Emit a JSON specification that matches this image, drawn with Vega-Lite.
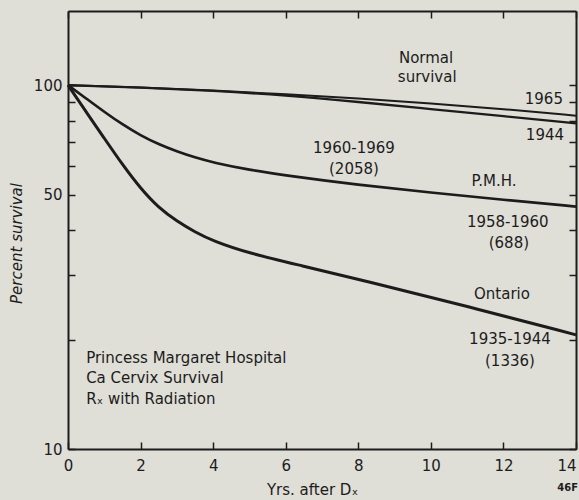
{
  "$schema": "https://vega.github.io/schema/vega-lite/v6.json",
  "width": 508,
  "height": 438,
  "autosize": {"type": "none"},
  "padding": {"left": 68, "top": 11, "right": 3, "bottom": 51},
  "background": "#dfded7",
  "title": {"text": "46F", "orient": "bottom", "anchor": "end", "align": "right", "fontSize": 10, "fontWeight": "bold", "font": "DejaVu Sans", "color": "#1c1c1c", "offset": 0, "dy": -14, "dx": -4},
  "config": {
    "view": {"stroke": null},
    "font": "DejaVu Sans",
    "axis": {
      "domainColor": "#1c1c1c",
      "domainWidth": 2,
      "tickColor": "#1c1c1c",
      "tickWidth": 1.5,
      "tickSize": -7,
      "labelColor": "#1c1c1c",
      "labelFontSize": 15,
      "labelFont": "DejaVu Sans",
      "titleColor": "#1c1c1c",
      "titleFont": "DejaVu Sans",
      "titleFontSize": 15,
      "titleFontWeight": "normal",
      "grid": false
    }
  },
  "datasets": {
    "curves": [
      {"series": "Normal 1965", "yr": 0, "pct": 100},
      {"series": "Normal 1965", "yr": 2, "pct": 98.6},
      {"series": "Normal 1965", "yr": 4, "pct": 96.8},
      {"series": "Normal 1965", "yr": 6, "pct": 94.5},
      {"series": "Normal 1965", "yr": 8, "pct": 92},
      {"series": "Normal 1965", "yr": 10, "pct": 89.2},
      {"series": "Normal 1965", "yr": 12, "pct": 86},
      {"series": "Normal 1965", "yr": 14, "pct": 82.5},
      {"series": "Normal 1944", "yr": 0, "pct": 100},
      {"series": "Normal 1944", "yr": 2, "pct": 98.6},
      {"series": "Normal 1944", "yr": 4, "pct": 96.6},
      {"series": "Normal 1944", "yr": 6, "pct": 93.8},
      {"series": "Normal 1944", "yr": 8, "pct": 90},
      {"series": "Normal 1944", "yr": 10, "pct": 86},
      {"series": "Normal 1944", "yr": 12, "pct": 82.2},
      {"series": "Normal 1944", "yr": 14, "pct": 78.6},
      {"series": "PMH 1960-1969", "yr": 0, "pct": 100},
      {"series": "PMH 1960-1969", "yr": 0.5, "pct": 92},
      {"series": "PMH 1960-1969", "yr": 1, "pct": 84.5},
      {"series": "PMH 1960-1969", "yr": 1.5, "pct": 78},
      {"series": "PMH 1960-1969", "yr": 2, "pct": 72.8},
      {"series": "PMH 1960-1969", "yr": 2.5, "pct": 68.8},
      {"series": "PMH 1960-1969", "yr": 3, "pct": 65.8},
      {"series": "PMH 1960-1969", "yr": 3.5, "pct": 63.3},
      {"series": "PMH 1960-1969", "yr": 4, "pct": 61.3},
      {"series": "PMH 1960-1969", "yr": 5, "pct": 58.5},
      {"series": "PMH 1960-1969", "yr": 6, "pct": 56.5},
      {"series": "PMH 1960-1969", "yr": 8, "pct": 53.2},
      {"series": "PMH 1960-1969", "yr": 10, "pct": 50.7},
      {"series": "PMH 1960-1969", "yr": 12, "pct": 48.4},
      {"series": "PMH 1960-1969", "yr": 14, "pct": 46.4},
      {"series": "Ontario 1935-1944", "yr": 0, "pct": 100},
      {"series": "Ontario 1935-1944", "yr": 0.5, "pct": 84.5},
      {"series": "Ontario 1935-1944", "yr": 1, "pct": 71.5},
      {"series": "Ontario 1935-1944", "yr": 1.5, "pct": 60.5},
      {"series": "Ontario 1935-1944", "yr": 2, "pct": 52},
      {"series": "Ontario 1935-1944", "yr": 2.5, "pct": 46},
      {"series": "Ontario 1935-1944", "yr": 3, "pct": 42.3},
      {"series": "Ontario 1935-1944", "yr": 3.5, "pct": 39.5},
      {"series": "Ontario 1935-1944", "yr": 4, "pct": 37.3},
      {"series": "Ontario 1935-1944", "yr": 5, "pct": 34.5},
      {"series": "Ontario 1935-1944", "yr": 6.39, "pct": 32},
      {"series": "Ontario 1935-1944", "yr": 8.23, "pct": 28.9},
      {"series": "Ontario 1935-1944", "yr": 10.99, "pct": 24.7},
      {"series": "Ontario 1935-1944", "yr": 14, "pct": 20.6}
    ],
    "labels": [
      {"kind": "left", "x": 9.12, "y": 118.7, "label": "Normal"},
      {"kind": "left", "x": 9.09, "y": 105.2, "label": "survival"},
      {"kind": "right", "x": 13.64, "y": 91.5, "label": "1965"},
      {"kind": "right", "x": 13.67, "y": 72.8, "label": "1944"},
      {"kind": "center", "x": 7.88, "y": 67.1, "label": "1960-1969"},
      {"kind": "center", "x": 7.88, "y": 58.7, "label": "(2058)"},
      {"kind": "center", "x": 11.74, "y": 54.7, "label": "P.M.H."},
      {"kind": "center", "x": 12.12, "y": 42.2, "label": "1958-1960"},
      {"kind": "center", "x": 12.15, "y": 36.9, "label": "(688)"},
      {"kind": "center", "x": 11.96, "y": 26.7, "label": "Ontario"},
      {"kind": "center", "x": 12.18, "y": 20.1, "label": "1935-1944"},
      {"kind": "center", "x": 12.18, "y": 17.4, "label": "(1336)"},
      {"kind": "left", "x": 0.5, "y": 17.8, "label": "Princess Margaret Hospital"},
      {"kind": "left", "x": 0.5, "y": 15.7, "label": "Ca Cervix Survival"},
      {"kind": "left", "x": 0.5, "y": 13.7, "label": "Rₓ  with Radiation"}
    ]
  },
  "layer": [
    {
      "data": {"name": "curves"},
      "mark": {"type": "line", "interpolate": "basis", "color": "#1c1c1c"},
      "encoding": {
        "x": {
          "field": "yr", "type": "quantitative",
          "scale": {"domain": [0, 14], "nice": false},
          "axis": {"orient": "bottom", "values": [0, 2, 4, 6, 8, 10, 12, 14], "labelPadding": 16, "title": "Yrs. after Dₓ", "titleX": 244, "titleY": 40, "titleBaseline": "middle", "labelFlush": false, "labelAlign": {"condition": {"test": "datum.value == 14", "value": "right"}, "value": "center"}}
        },
        "y": {
          "field": "pct", "type": "quantitative",
          "scale": {"type": "log", "domain": [10, 160], "nice": false},
          "axis": {"orient": "left", "values": [10, 20, 30, 40, 50, 60, 70, 80, 90, 100], "labelExpr": "datum.value == 10 || datum.value == 50 || datum.value == 100 ? format(datum.value, 'd') : ''", "labelPadding": 13, "title": "Percent survival", "titleFontStyle": "italic", "titleX": -52, "titleY": 232, "titleBaseline": "middle", "titleAngle": -90}
        },
        "detail": {"field": "series"},
        "strokeWidth": {"field": "series", "type": "nominal", "scale": {"domain": ["Normal 1965", "Normal 1944", "PMH 1960-1969", "Ontario 1935-1944"], "range": [2, 3, 2.5, 2.5]}, "legend": null}
      }
    },
    {
      "data": {"name": "labels"},
      "transform": [{"filter": "datum.kind == 'left'"}],
      "mark": {"type": "text", "align": "left", "baseline": "middle", "fontSize": 15, "color": "#1c1c1c"},
      "encoding": {
        "x": {"field": "x", "type": "quantitative", "axis": {"orient": "top", "values": [0, 2, 4, 6, 8, 10, 12, 14], "labels": false, "title": null}},
        "y": {"field": "y", "type": "quantitative", "axis": {"orient": "right", "values": [10, 20, 30, 40, 50, 60, 70, 80, 90, 100], "labels": false, "title": null}},
        "text": {"field": "label"}
      }
    },
    {
      "data": {"name": "labels"},
      "transform": [{"filter": "datum.kind == 'right'"}],
      "mark": {"type": "text", "align": "right", "baseline": "middle", "fontSize": 15, "color": "#1c1c1c"},
      "encoding": {
        "x": {"field": "x", "type": "quantitative", "axis": null},
        "y": {"field": "y", "type": "quantitative", "axis": null},
        "text": {"field": "label"}
      }
    },
    {
      "data": {"name": "labels"},
      "transform": [{"filter": "datum.kind == 'center'"}],
      "mark": {"type": "text", "align": "center", "baseline": "middle", "fontSize": 15, "color": "#1c1c1c"},
      "encoding": {
        "x": {"field": "x", "type": "quantitative", "axis": null},
        "y": {"field": "y", "type": "quantitative", "axis": null},
        "text": {"field": "label"}
      }
    }
  ],
  "resolve": {"axis": {"x": "independent", "y": "independent"}}
}
